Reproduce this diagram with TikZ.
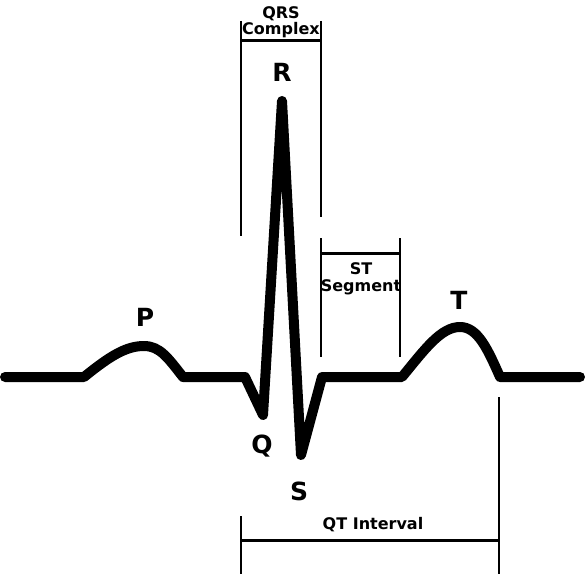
\documentclass[tikz,border=0pt]{standalone}
\usepackage{fontspec}
\setmainfont{DejaVu Sans}
\begin{document}
\begin{tikzpicture}[x=1pt,y=-1pt,
  wave/.style={line width=10pt,line cap=round,line join=round},
  tick/.style={line width=1.8pt},
  bar/.style={line width=3pt},
  wavelabel/.style={font=\fontsize{25}{28}\selectfont\bfseries,inner sep=0pt},
  brlabel/.style={font=\fontsize{16}{16.5}\selectfont\bfseries,align=center,inner sep=0pt}]
\useasboundingbox (0,0) rectangle (585,575);
% ECG trace
\draw[wave] (5,377) -- (84,377)
  .. controls (110,356) and (126,346) .. (144,346)
  .. controls (160,346) and (168,358) .. (183,377)
  -- (245,377) -- (263,415) -- (282,101) -- (301,455) -- (322,377) -- (402,377)
  .. controls (425,349) and (441,327) .. (460,327)
  .. controls (478,327) and (488,350) .. (500,377)
  -- (580,377);
% wave labels
\node[wavelabel] (P) at (145,317) {P};
\node[wavelabel] (R) at (282,72) {R};
\node[wavelabel] (Q) at (262,446) {Q};
\node[wavelabel] (S) at (299,491) {S};
\node[wavelabel] (T) at (459,300) {T};
% QRS complex bracket
\draw[tick] (241,21) -- (241,236);
\draw[tick] (321,21) -- (321,217);
\draw[bar] (241,41) -- (321,41);
\node[brlabel] (qrs) at (281,22) {QRS\\Complex};
% ST segment bracket
\draw[tick] (321,238) -- (321,357);
\draw[tick] (400,238) -- (400,357);
\draw[bar] (321,253) -- (400,253);
\node[brlabel] (st) at (361,279) {ST\\Segment};
% QT interval bracket
\draw[tick] (241,516) -- (241,574);
\draw[tick] (499,397) -- (499,574);
\draw[bar] (241,540) -- (499,540);
\node[brlabel] (qt) at (373,525) {QT Interval};
\end{tikzpicture}
\end{document}
